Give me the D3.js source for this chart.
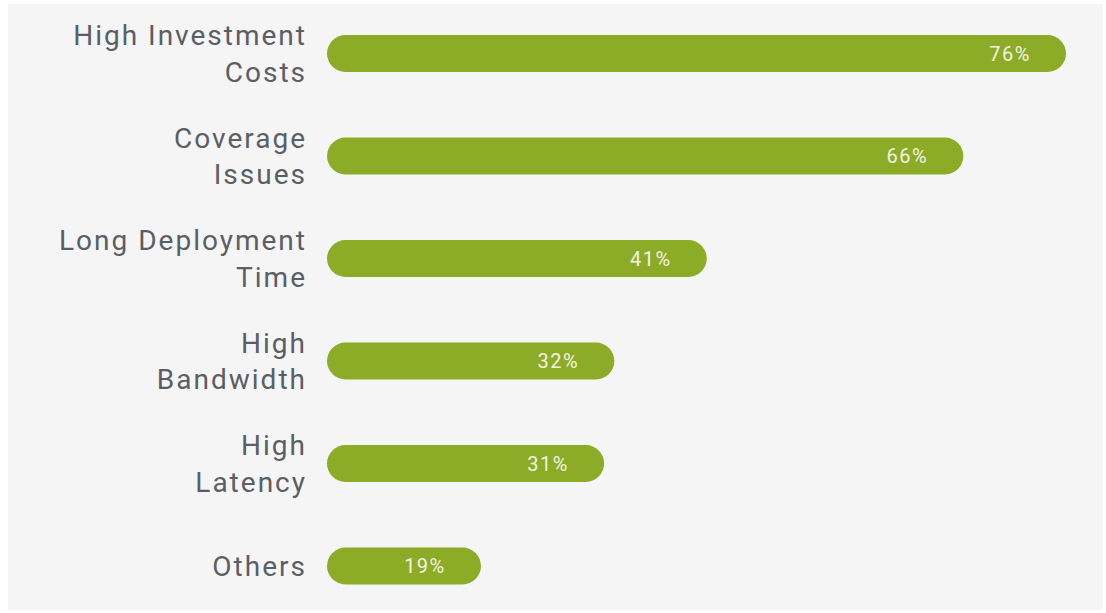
<!DOCTYPE html>
<html>
<head>
<meta charset="utf-8">
<script src="https://cdn.jsdelivr.net/npm/d3@7"></script>
<style>
  html, body { margin: 0; padding: 0; background: #ffffff; }
  svg { display: block; }
</style>
</head>
<body>
<svg id="chart" width="1106" height="613"></svg>
<script>
// Survey results: barriers, share of respondents (%)
const categories = [
  ["High Investment", "Costs"],
  ["Coverage", "Issues"],
  ["Long Deployment", "Time"],
  ["High", "Bandwidth"],
  ["High", "Latency"],
  ["Others"]
];
const values = [76, 66, 41, 32, 31, 19];

const svg = d3.select("#chart");

// panel background
svg.append("rect")
  .attr("x", 8).attr("y", 4)
  .attr("width", 1095).attr("height", 606)
  .attr("fill", "#f5f5f5");

const keys = categories.map(c => c.join(" "));

const y = d3.scalePoint()
  .domain(keys)
  .range([53.5, 566]);

const x = d3.scaleLinear()
  .domain([4, 76])
  .range([327, 1066]);

const barH = 37;

const rows = svg.append("g").selectAll("g.row")
  .data(values.map((v, i) => ({ v, key: keys[i], lines: categories[i] })))
  .join("g")
  .attr("class", "row")
  .attr("transform", d => `translate(0,${y(d.key)})`);

rows.append("rect")
  .attr("x", x(4))
  .attr("y", -barH / 2)
  .attr("width", d => x(d.v) - x(4))
  .attr("height", barH)
  .attr("rx", barH / 2)
  .attr("ry", barH / 2)
  .attr("fill", "#8cab27");

rows.append("text")
  .attr("x", d => x(d.v) - 56)
  .attr("y", 7)
  .attr("text-anchor", "middle")
  .attr("font-family", "Roboto, 'DejaVu Sans', sans-serif")
  .attr("font-size", 20)
  .attr("letter-spacing", 1.5)
  .attr("fill", "#f3f3e2")
  .text(d => d.v + "%");

const labels = rows.append("text")
  .attr("text-anchor", "end")
  .attr("font-family", "Roboto, 'DejaVu Sans', sans-serif")
  .attr("font-size", 28)
  .attr("letter-spacing", 2)
  .attr("fill", "#5a5e65");

labels.selectAll("tspan")
  .data(d => d.lines.map((t, i) => ({ t, i, n: d.lines.length })))
  .join("tspan")
  .attr("x", 307)
  .attr("y", d => d.n === 1 ? 10 : (d.i === 0 ? -8.5 : 28))
  .text(d => d.t);
</script>
</body>
</html>
